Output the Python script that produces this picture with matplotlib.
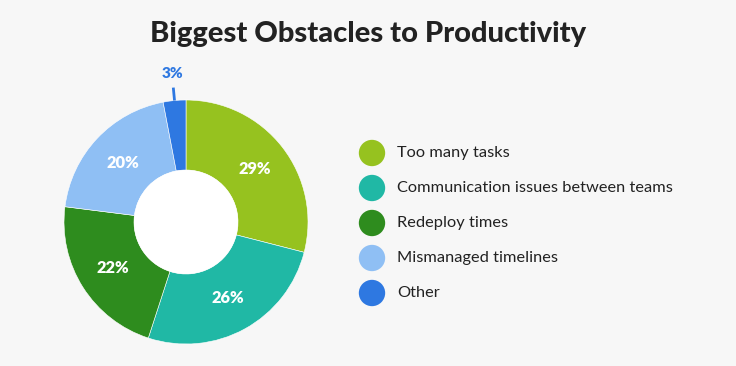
import numpy as np
import matplotlib.pyplot as plt
from matplotlib.patches import Circle

# data
categories = ["Too many tasks", "Communication issues between teams",
              "Redeploy times", "Mismanaged timelines", "Other"]
shares = [29, 26, 22, 20, 3]
colors = ["#96c21f", "#20b8a5", "#2e8c1e", "#8fbff4", "#2e78e1"]

W, H = 736, 366
fig = plt.figure(figsize=(W / 100, H / 100), dpi=100)
fig.patch.set_facecolor("#f7f7f7")
ax = fig.add_axes([0, 0, 1, 1])

cx, cy = 186, H - 222
r_out, r_in = 122, 52

wedges, _ = ax.pie(shares, colors=colors, startangle=90, counterclock=False,
                   radius=r_out, center=(cx, cy), frame=True,
                   wedgeprops=dict(width=r_out - r_in, edgecolor="white", linewidth=0.4))
ax.add_patch(Circle((cx, cy), r_in, facecolor="white", edgecolor="none", zorder=3))
ax.set_xlim(0, W)
ax.set_ylim(0, H)
ax.set_aspect("equal")
ax.axis("off")

for w, v in zip(wedges, shares):
    ang = np.deg2rad((w.theta1 + w.theta2) / 2)
    ca, sa = np.cos(ang), np.sin(ang)
    if v >= 10:
        r = 0.71 * r_out
        ax.text(cx + r * ca, cy + r * sa, f"{v}%", ha="center", va="center",
                color="white", fontsize=11.8, fontweight="heavy", family="Lato", zorder=4)
    else:
        # small slice: label outside with a short leader line
        ax.plot([cx + r_out * ca, cx + 135 * ca], [cy + r_out * sa, cy + 135 * sa],
                color=w.get_facecolor(), lw=2, solid_capstyle="butt", zorder=4)
        ax.text(cx + 149 * ca, cy + 149 * sa, f"{v}%", ha="center", va="center",
                color=w.get_facecolor(), fontsize=11, fontweight="heavy", family="Lato", zorder=4)

# legend
for i, (lab, c) in enumerate(zip(categories, colors)):
    y = H - 153 - i * 35
    ax.scatter(372, y, s=360, color=c, edgecolor="none", zorder=4)
    ax.text(397, y, lab, ha="left", va="center", fontsize=11.8, color="#222222",
            family="Lato", zorder=4)

fig.text(0.5, 1 - 34 / H, "Biggest Obstacles to Productivity", ha="center", va="center",
         fontsize=21, fontweight="black", color="#222222", family="Lato")

fig.savefig("out.png", dpi=100, facecolor=fig.get_facecolor())
